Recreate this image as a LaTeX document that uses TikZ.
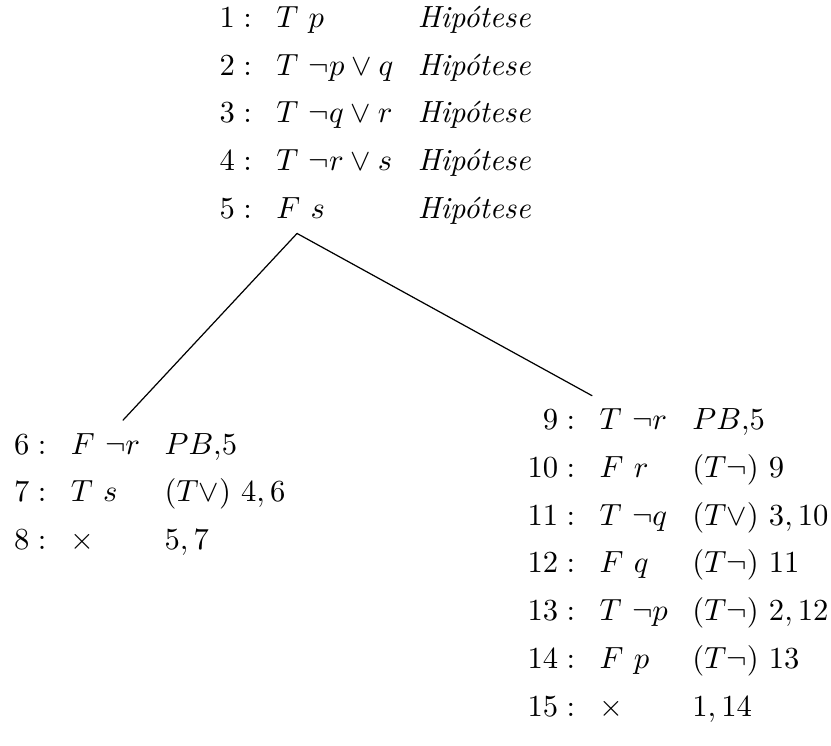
\documentclass[tikz,border=0pt]{standalone}
\usepackage{fontspec}
\usetikzlibrary{calc}
\tikzset{
  tab node/.style={inner sep=0pt, anchor=west},
  branch/.style={line width=0.4pt, line cap=round}
}
\renewcommand{\arraystretch}{1.3}
\setlength{\arraycolsep}{4pt}

\begin{document}
\begin{tikzpicture}
  \useasboundingbox (0,0) rectangle (9.54,-8.553);

  % hypotheses
  \node[tab node] (hyp) at (2.514,-1.302) {$\begin{array}{@{}rll@{}}
    1: & T\ p & \textit{Hipótese}\\
    2: & T\ \neg p\vee q & \textit{Hipótese}\\
    3: & T\ \neg q\vee r & \textit{Hipótese}\\
    4: & T\ \neg r\vee s & \textit{Hipótese}\\
    5: & F\ s & \textit{Hipótese}
  \end{array}$};

  % left branch
  \node[tab node] (left) at (0.155,-5.653) {$\begin{array}{@{}rll@{}}
    6: & F\ \neg r & PB{,}5\\
    7: & T\ s & (T\vee)\ 4,6\\
    8: & \times & 5,7
  \end{array}$};

  % right branch
  \node[tab node] (right) at (6.05,-6.468) {$\begin{array}{@{}rll@{}}
    9: & T\ \neg r & PB{,}5\\
    10: & F\ r & (T\neg)\ 9\\
    11: & T\ \neg q & (T\vee)\ 3,10\\
    12: & F\ q & (T\neg)\ 11\\
    13: & T\ \neg p & (T\neg)\ 2,12\\
    14: & F\ p & (T\neg)\ 13\\
    15: & \times & 1,14
  \end{array}$};

  \coordinate (fork) at ([xshift=0.896cm]hyp.south west);
  \draw[branch] (fork) -- ([xshift=1.257cm]left.north west);
  \draw[branch] (fork) -- ([xshift=0.746cm]right.north west);
\end{tikzpicture}
\end{document}
